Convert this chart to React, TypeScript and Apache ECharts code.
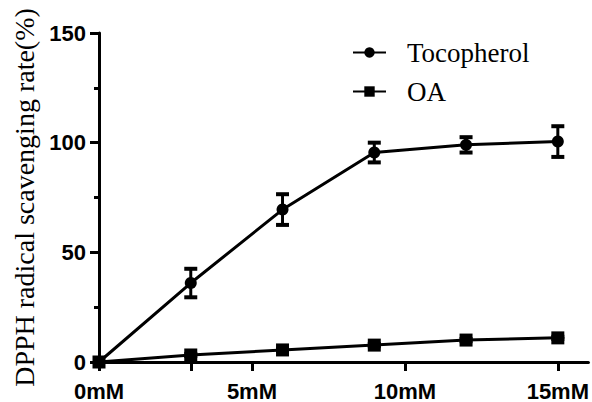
import React, { useEffect, useRef } from "react";
import * as echarts from "echarts";

const xValues = [0, 3, 6, 9, 12, 15];
const tocopherol = [0, 36, 69.5, 95.5, 99, 100.5];
const tocopherolErr = [0, 6.5, 7, 4.5, 3.5, 7];
const oa = [0, 3.2, 5.5, 7.7, 10, 11];
const oaErr = [0, 0.5, 0.5, 0.5, 0.5, 0.5];
const xTickValues = [0, 3, 5, 10, 15];
const xLabelValues = [0, 5, 10, 15];
const seriesNames = ["Tocopherol", "OA"];
const yAxisTitle = "DPPH radical scavenging rate(%)";

const SANS = "Liberation Sans";
const SERIF = "Liberation Serif";

export default function App() {
  const ref = useRef<HTMLDivElement>(null);
  useEffect(() => {
    if (!ref.current) return;
    const chart = echarts.init(ref.current, null, { renderer: "svg" });
    const errRender = (params: any, api: any) => {
      const x = api.value(0);
      const y = api.value(1);
      const e = api.value(2);
      if (!e) return null;
      const top = api.coord([x, y + e]);
      const bot = api.coord([x, y - e]);
      const w = 6.5;
      const st = { stroke: "#000", lineWidth: 3 };
      const cap = { stroke: "#000", lineWidth: 4 };
      return {
        type: "group",
        children: [
          { type: "line", shape: { x1: top[0], y1: top[1], x2: bot[0], y2: bot[1] }, style: st },
          { type: "line", shape: { x1: top[0] - w, y1: top[1], x2: top[0] + w, y2: top[1] }, style: cap },
          { type: "line", shape: { x1: bot[0] - w, y1: bot[1], x2: bot[0] + w, y2: bot[1] }, style: cap },
        ],
      };
    };
    chart.setOption({
      animation: false,
      backgroundColor: "#fff",
      grid: { left: 99, right: 3.4, top: 33, bottom: 39, containLabel: false },
      legend: {
        data: seriesNames,
        orient: "vertical",
        left: 352,
        top: 39,
        padding: 0,
        itemWidth: 33,
        itemHeight: 13,
        itemGap: 12,
        textStyle: { fontFamily: SERIF, fontSize: 27, color: "#000", padding: [0, 0, 0, 16] },
      },
      xAxis: {
        type: "value",
        min: 0,
        max: 16,
        splitLine: { show: false },
        axisLine: { lineStyle: { color: "#000", width: 3 } },
        axisTick: { customValues: xTickValues, length: 9, lineStyle: { color: "#000", width: 3 } },
        axisLabel: {
          customValues: xLabelValues,
          formatter: (v: number) => v + "mM",
          fontFamily: SANS,
          fontWeight: "bold",
          fontSize: 22,
          color: "#000",
          margin: 18,
        },
      },
      yAxis: {
        type: "value",
        min: 0,
        max: 150,
        interval: 50,
        name: yAxisTitle,
        nameLocation: "middle",
        nameRotate: 90,
        nameGap: 60,
        nameTextStyle: { fontFamily: SERIF, fontSize: 28, color: "#000" },
        splitLine: { show: false },
        axisLine: { show: true, lineStyle: { color: "#000", width: 3 } },
        axisTick: { show: true, length: 9, lineStyle: { color: "#000", width: 3 } },
        minorTick: { show: true, splitNumber: 2, length: 5, lineStyle: { color: "#000", width: 3 } },
        axisLabel: {
          fontFamily: SANS,
          fontWeight: "bold",
          fontSize: 22,
          color: "#000",
          margin: 13,
        },
      },
      series: [
        {
          name: seriesNames[0],
          type: "line",
          data: xValues.map((x, i) => [x, tocopherol[i]]),
          symbol: "circle",
          symbolSize: 12,
          itemStyle: { color: "#000" },
          lineStyle: { color: "#000", width: 3 },
          z: 3,
        },
        {
          name: seriesNames[1],
          type: "line",
          data: xValues.map((x, i) => [x, oa[i]]),
          symbol: "rect",
          symbolSize: 13,
          itemStyle: { color: "#000" },
          lineStyle: { color: "#000", width: 3 },
          z: 3,
        },
        {
          name: "tocErr",
          type: "custom",
          renderItem: errRender,
          data: xValues.map((x, i) => [x, tocopherol[i], tocopherolErr[i]]),
          clip: false,
          z: 4,
        },
        {
          name: "oaErr",
          type: "custom",
          renderItem: errRender,
          data: xValues.map((x, i) => [x, oa[i], oaErr[i]]),
          clip: false,
          z: 2,
        },
      ],
    });
    return () => chart.dispose();
  }, []);
  return <div ref={ref} style={{ width: 592, height: 402, position: "absolute", left: 0, top: 0 }} />;
}
